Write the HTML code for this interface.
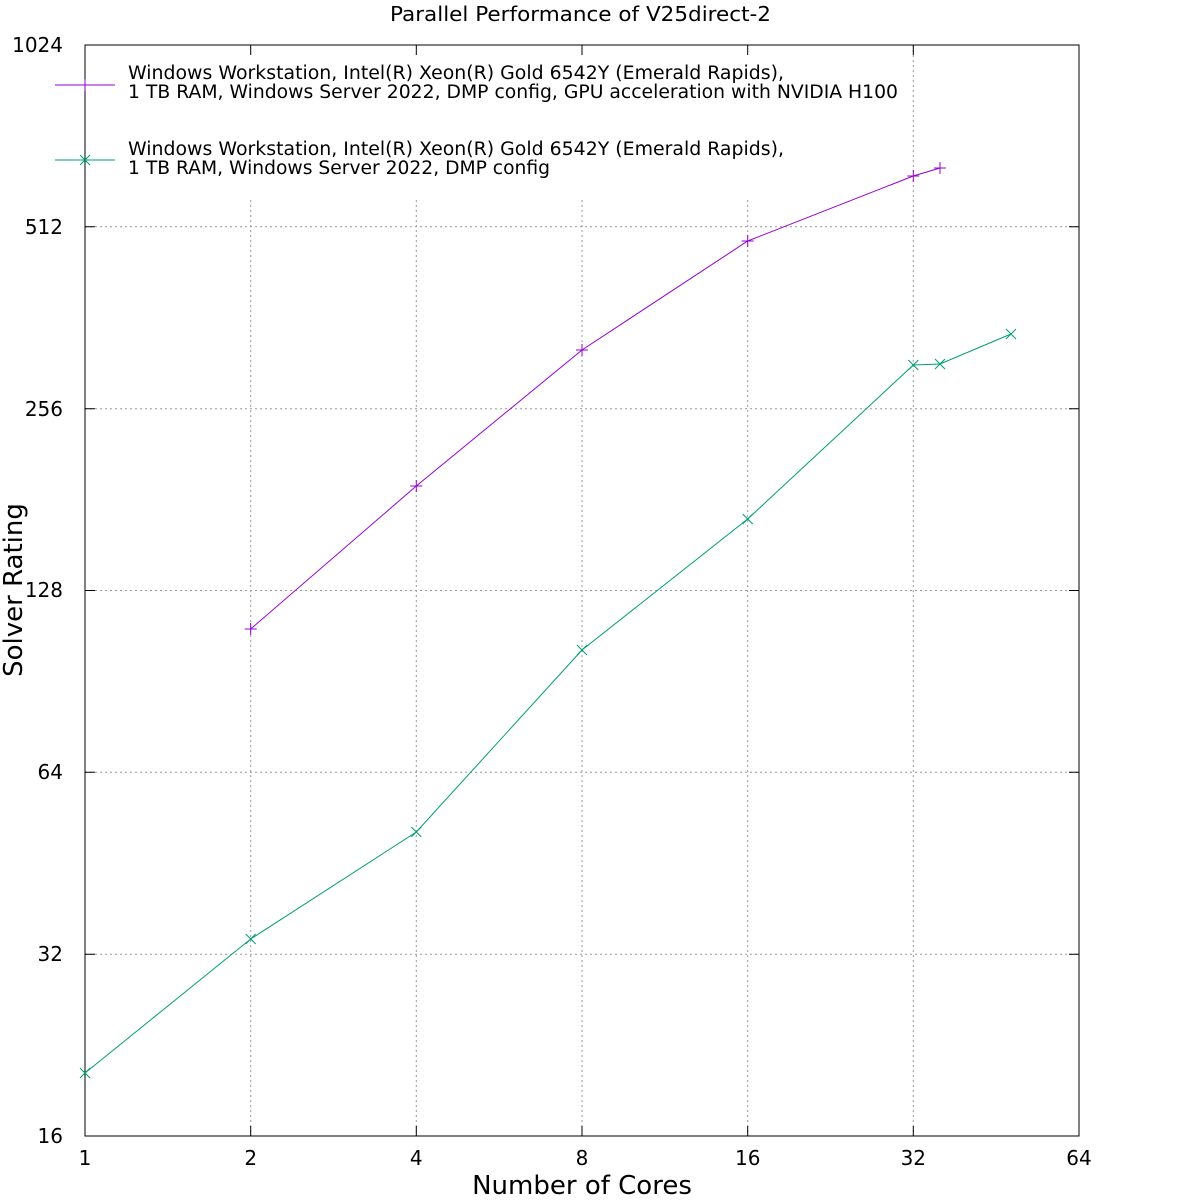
<!DOCTYPE html>
<html><head><meta charset="utf-8"><style>body{margin:0;background:#fff}svg{display:block}text{font-family:"DejaVu Sans","Liberation Sans",sans-serif;fill:#000}</style></head>
<body>
<svg width="1200" height="1200" viewBox="0 0 1200 1200" xmlns="http://www.w3.org/2000/svg">
<rect width="1200" height="1200" fill="#fff"/>
<g stroke="#999" stroke-width="1" stroke-dasharray="2,3" fill="none">
<path d="M250.7 200V1136M416.3 200V1136M582 200V1136M747.7 200V1136M913.3 45V1136"/>
<path d="M85 226.8H1079M85 408.7H1079M85 590.5H1079M85 772.3H1079M85 954.2H1079"/>
</g>
<g stroke="#000" stroke-width="1" fill="none">
<rect x="85" y="45" width="994" height="1091"/>
<path d="M250.7 1136v-10M416.3 1136v-10M582 1136v-10M747.7 1136v-10M913.3 1136v-10M250.7 45v10M416.3 45v10M582 45v10M747.7 45v10M913.3 45v10"/>
<path d="M85 226.8h10M85 408.7h10M85 590.5h10M85 772.3h10M85 954.2h10M1079 226.8h-10M1079 408.7h-10M1079 590.5h-10M1079 772.3h-10M1079 954.2h-10"/>
</g>
<g font-size="20" text-anchor="end">
<text x="63" y="52">1024</text><text x="63" y="234">512</text><text x="63" y="416">256</text><text x="63" y="597">128</text><text x="63" y="779">64</text><text x="63" y="961">32</text><text x="63" y="1143">16</text>
</g>
<g font-size="20" text-anchor="middle">
<text x="85" y="1165">1</text><text x="250.7" y="1165">2</text><text x="416.3" y="1165">4</text><text x="582" y="1165">8</text><text x="747.7" y="1165">16</text><text x="913.3" y="1165">32</text><text x="1079" y="1165">64</text>
</g>
<text x="390" y="21" font-size="20" textLength="381" lengthAdjust="spacingAndGlyphs">Parallel Performance of V25direct-2</text>
<text x="582" y="1194" font-size="26" text-anchor="middle">Number of Cores</text>
<text transform="translate(22 590) rotate(-90)" font-size="26" text-anchor="middle">Solver Rating</text>
<g font-size="18.5">
<text x="128" y="79" textLength="656" lengthAdjust="spacingAndGlyphs">Windows Workstation, Intel(R) Xeon(R) Gold 6542Y (Emerald Rapids),</text>
<text x="128" y="98" textLength="770" lengthAdjust="spacingAndGlyphs">1 TB RAM, Windows Server 2022, DMP config, GPU acceleration with NVIDIA H100</text>
<text x="128" y="155" textLength="656" lengthAdjust="spacingAndGlyphs">Windows Workstation, Intel(R) Xeon(R) Gold 6542Y (Emerald Rapids),</text>
<text x="128" y="174" textLength="422" lengthAdjust="spacingAndGlyphs">1 TB RAM, Windows Server 2022, DMP config</text>
</g>
<g stroke="#9400d3" fill="none" stroke-width="1">
<path d="M55 85H115"/>
<polyline points="250.7,629 416.3,486 582,350 747.7,241 913.3,176 940,168"/>
<path d="M85 79v12M79 85h12M250.7 623v12M244.7 629h12M416.3 480v12M410.3 486h12M582 344v12M576 350h12M747.7 235v12M741.7 241h12M913.3 170v12M907.3 176h12M940 162v12M934 168h12"/>
</g>
<g stroke="#009e73" fill="none" stroke-width="1">
<path d="M55 160H115"/>
<polyline points="85,1073 250.7,939 416.3,832 582,650 747.7,519 913.3,365 940,364 1011,334"/>
<path d="M80 155l10 10M80 165l10-10M80 1068l10 10M80 1078l10-10M245.7 934l10 10M245.7 944l10-10M411.3 827l10 10M411.3 837l10-10M577 645l10 10M577 655l10-10M742.7 514l10 10M742.7 524l10-10M908.3 360l10 10M908.3 370l10-10M935 359l10 10M935 369l10-10M1006 329l10 10M1006 339l10-10"/>
</g>
</svg>
</body></html>
